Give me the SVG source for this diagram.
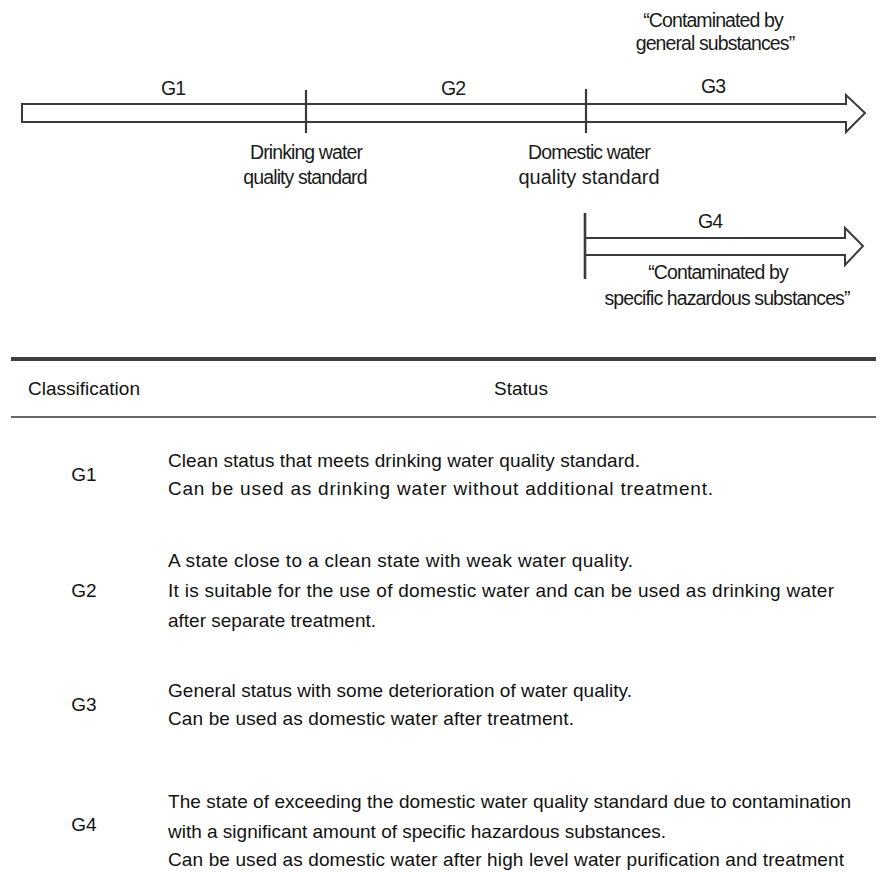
<svg xmlns="http://www.w3.org/2000/svg" width="895" height="872" viewBox="0 0 895 872">
<style>
text{font-family:"Liberation Sans",Arial,sans-serif;fill:#111;}
.lbl{font-size:19.5px;text-anchor:middle;letter-spacing:-0.9px;fill:#1a1a1a;}
.g{font-size:19px;text-anchor:middle;}
.hd{font-size:19px;}
.bd{font-size:19px;}
.arrow{fill:#fff;stroke:#3a3a3a;stroke-width:2;stroke-linejoin:miter;}
.tick{stroke:#3a3a3a;stroke-width:2.2;}
</style>
<rect width="895" height="872" fill="#fff"/>
<g id="connectors">
<polygon class="arrow" points="22,104 846,104 846,95 865,113 846,132 846,122 22,122"/>
<line class="tick" x1="306" y1="90" x2="306" y2="133"/>
<line class="tick" x1="586" y1="89" x2="586" y2="133"/>
<polygon class="arrow" points="585,238 845,238 845,228 863,246 845,265 845,255 585,255"/>
<line class="tick" x1="585" y1="213" x2="585" y2="279" style="stroke-width:2.6"/>
</g>
<g id="G1-seg"><text class="lbl" x="173" y="95">G1</text></g>
<g id="G2-seg"><text class="lbl" x="453" y="95">G2</text></g>
<g id="G3-seg">
<text class="lbl" x="713" y="93">G3</text>
<text class="lbl" x="713" y="27">“Contaminated by</text>
<text class="lbl" x="715" y="50">general substances”</text>
</g>
<g id="drinking-std">
<text class="lbl" x="306" y="159">Drinking water</text>
<text class="lbl" x="305" y="184">quality standard</text>
</g>
<g id="domestic-std">
<text class="lbl" x="589" y="159">Domestic water</text>
<text class="lbl" x="589" y="184" style="letter-spacing:0px;font-size:20px">quality standard</text>
</g>
<g id="G4-seg">
<text class="lbl" x="710" y="228">G4</text>
<text class="lbl" x="718" y="279">“Contaminated by</text>
<text class="lbl" x="727" y="305">specific hazardous substances”</text>
</g>
<g id="table">
<rect x="11" y="357" width="865" height="4" fill="#404040"/>
<line x1="11" y1="417" x2="876" y2="417" stroke="#333" stroke-width="1.6"/>
<text class="hd" x="28" y="395" textLength="112">Classification</text>
<text class="hd" x="521" y="395" text-anchor="middle">Status</text>
</g>
<g id="row-G1">
<text class="g" x="84" y="481">G1</text>
<text class="bd" x="168" y="467" textLength="472">Clean status that meets drinking water quality standard.</text>
<text class="bd" x="168" y="495" textLength="545">Can be used as drinking water without additional treatment.</text>
</g>
<g id="row-G2">
<text class="g" x="84" y="597">G2</text>
<text class="bd" x="168" y="567" textLength="465">A state close to a clean state with weak water quality.</text>
<text class="bd" x="168" y="597" textLength="666">It is suitable for the use of domestic water and can be used as drinking water</text>
<text class="bd" x="168" y="627" textLength="208">after separate treatment.</text>
</g>
<g id="row-G3">
<text class="g" x="84" y="711">G3</text>
<text class="bd" x="168" y="697" textLength="464">General status with some deterioration of water quality.</text>
<text class="bd" x="168" y="725" textLength="406">Can be used as domestic water after treatment.</text>
</g>
<g id="row-G4">
<text class="g" x="84" y="831">G4</text>
<text class="bd" x="168" y="808" textLength="683">The state of exceeding the domestic water quality standard due to contamination</text>
<text class="bd" x="168" y="838" textLength="498">with a significant amount of specific hazardous substances.</text>
<text class="bd" x="168" y="866" textLength="676">Can be used as domestic water after high level water purification and treatment</text>
</g>
</svg>
